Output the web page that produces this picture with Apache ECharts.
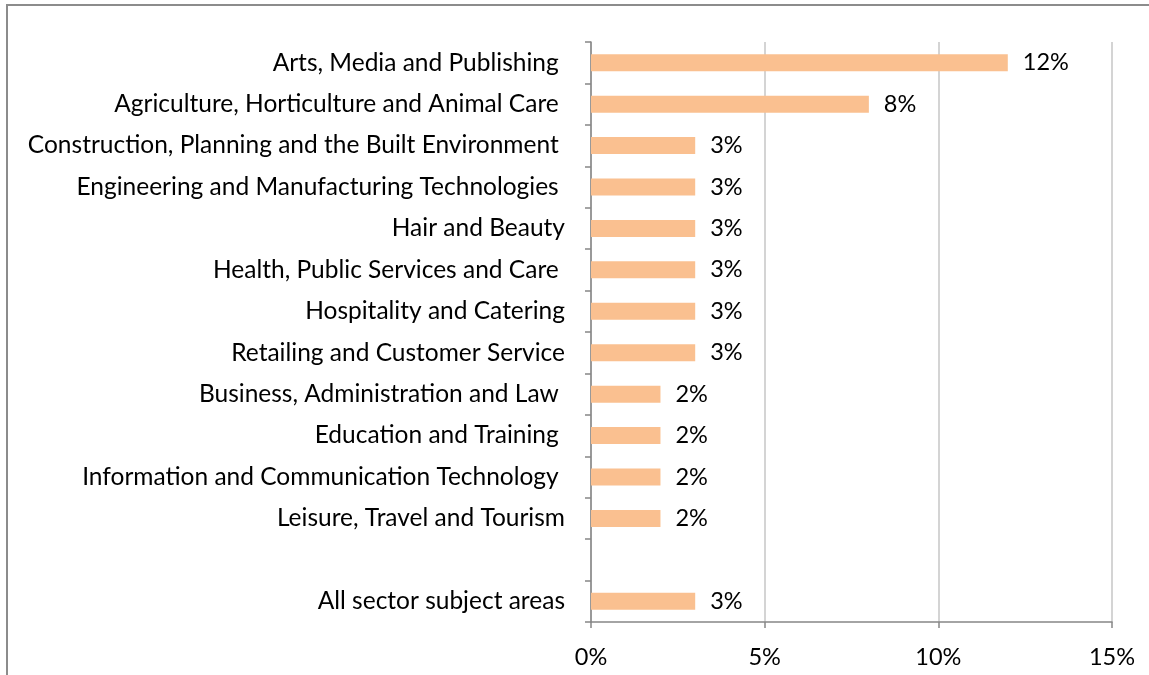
<!DOCTYPE html>
<html>
<head>
<meta charset="utf-8">
<script src="https://cdn.jsdelivr.net/npm/echarts@6/dist/echarts.min.js"></script>
<style>
html,body{margin:0;padding:0;background:#fff;}
#chart{width:1149px;height:675px;}
</style>
</head>
<body>
<div id="chart"></div>
<script>
var categories = [
  "Arts, Media and Publishing ",
  "Agriculture, Horticulture and Animal Care ",
  "Construction, Planning and the Built Environment ",
  "Engineering and Manufacturing Technologies ",
  "Hair and Beauty",
  "Health, Public Services and Care ",
  "Hospitality and Catering",
  "Retailing and Customer Service",
  "Business, Administration and Law ",
  "Education and Training ",
  "Information and Communication Technology ",
  "Leisure, Travel and Tourism",
  "",
  "All sector subject areas"
];
var values = [12, 8, 3, 3, 3, 3, 3, 3, 2, 2, 2, 2, null, 3];
var xTicks = [0, 5, 10, 15];

var FONT = 'Lato';
var FS_CAT = 24.5;
var FS_NUM = 23.5;
var chart = echarts.init(document.getElementById('chart'), null, {renderer: 'canvas'});
chart.setOption({
  animation: false,
  backgroundColor: '#ffffff',
  grid: {left: 591, right: 37, top: 42, bottom: 53, containLabel: false},
  xAxis: {
    type: 'value',
    min: xTicks[0],
    max: xTicks[xTicks.length - 1],
    interval: 5,
    axisLine: {show: true, lineStyle: {color: '#868686', width: 1.5}},
    axisTick: {show: true, length: 6, lineStyle: {color: '#868686', width: 1.5}},
    splitLine: {show: true, lineStyle: {color: '#c6c6c6', width: 1.5}},
    axisLabel: {
      margin: 23,
      color: '#000',
      fontFamily: FONT,
      fontSize: FS_NUM,
      formatter: function (v) { return v + '%'; }
    }
  },
  yAxis: {
    type: 'category',
    data: categories,
    inverse: true,
    axisLine: {show: true, lineStyle: {color: '#868686', width: 1.5}},
    axisTick: {show: true, length: 6, lineStyle: {color: '#868686', width: 1.5}},
    axisLabel: {
      margin: 26,
      color: '#000',
      fontFamily: FONT,
      fontSize: FS_CAT
    },
    splitLine: {show: false}
  },
  series: [{
    type: 'bar',
    data: values,
    barWidth: 17,
    itemStyle: {color: '#FAC090'},
    label: {
      show: true,
      position: 'right',
      distance: 15,
      color: '#000',
      fontFamily: FONT,
      fontSize: FS_NUM,
      formatter: function (p) { return p.value + '%'; }
    }
  }],
  graphic: [
    {type: 'line', shape: {x1: 7, y1: 5, x2: 7, y2: 675}, style: {stroke: '#8c8c8c', lineWidth: 2}},
    {type: 'line', shape: {x1: 6, y1: 5, x2: 1149, y2: 5}, style: {stroke: '#8c8c8c', lineWidth: 2}}
  ]
});
</script>
</body>
</html>
